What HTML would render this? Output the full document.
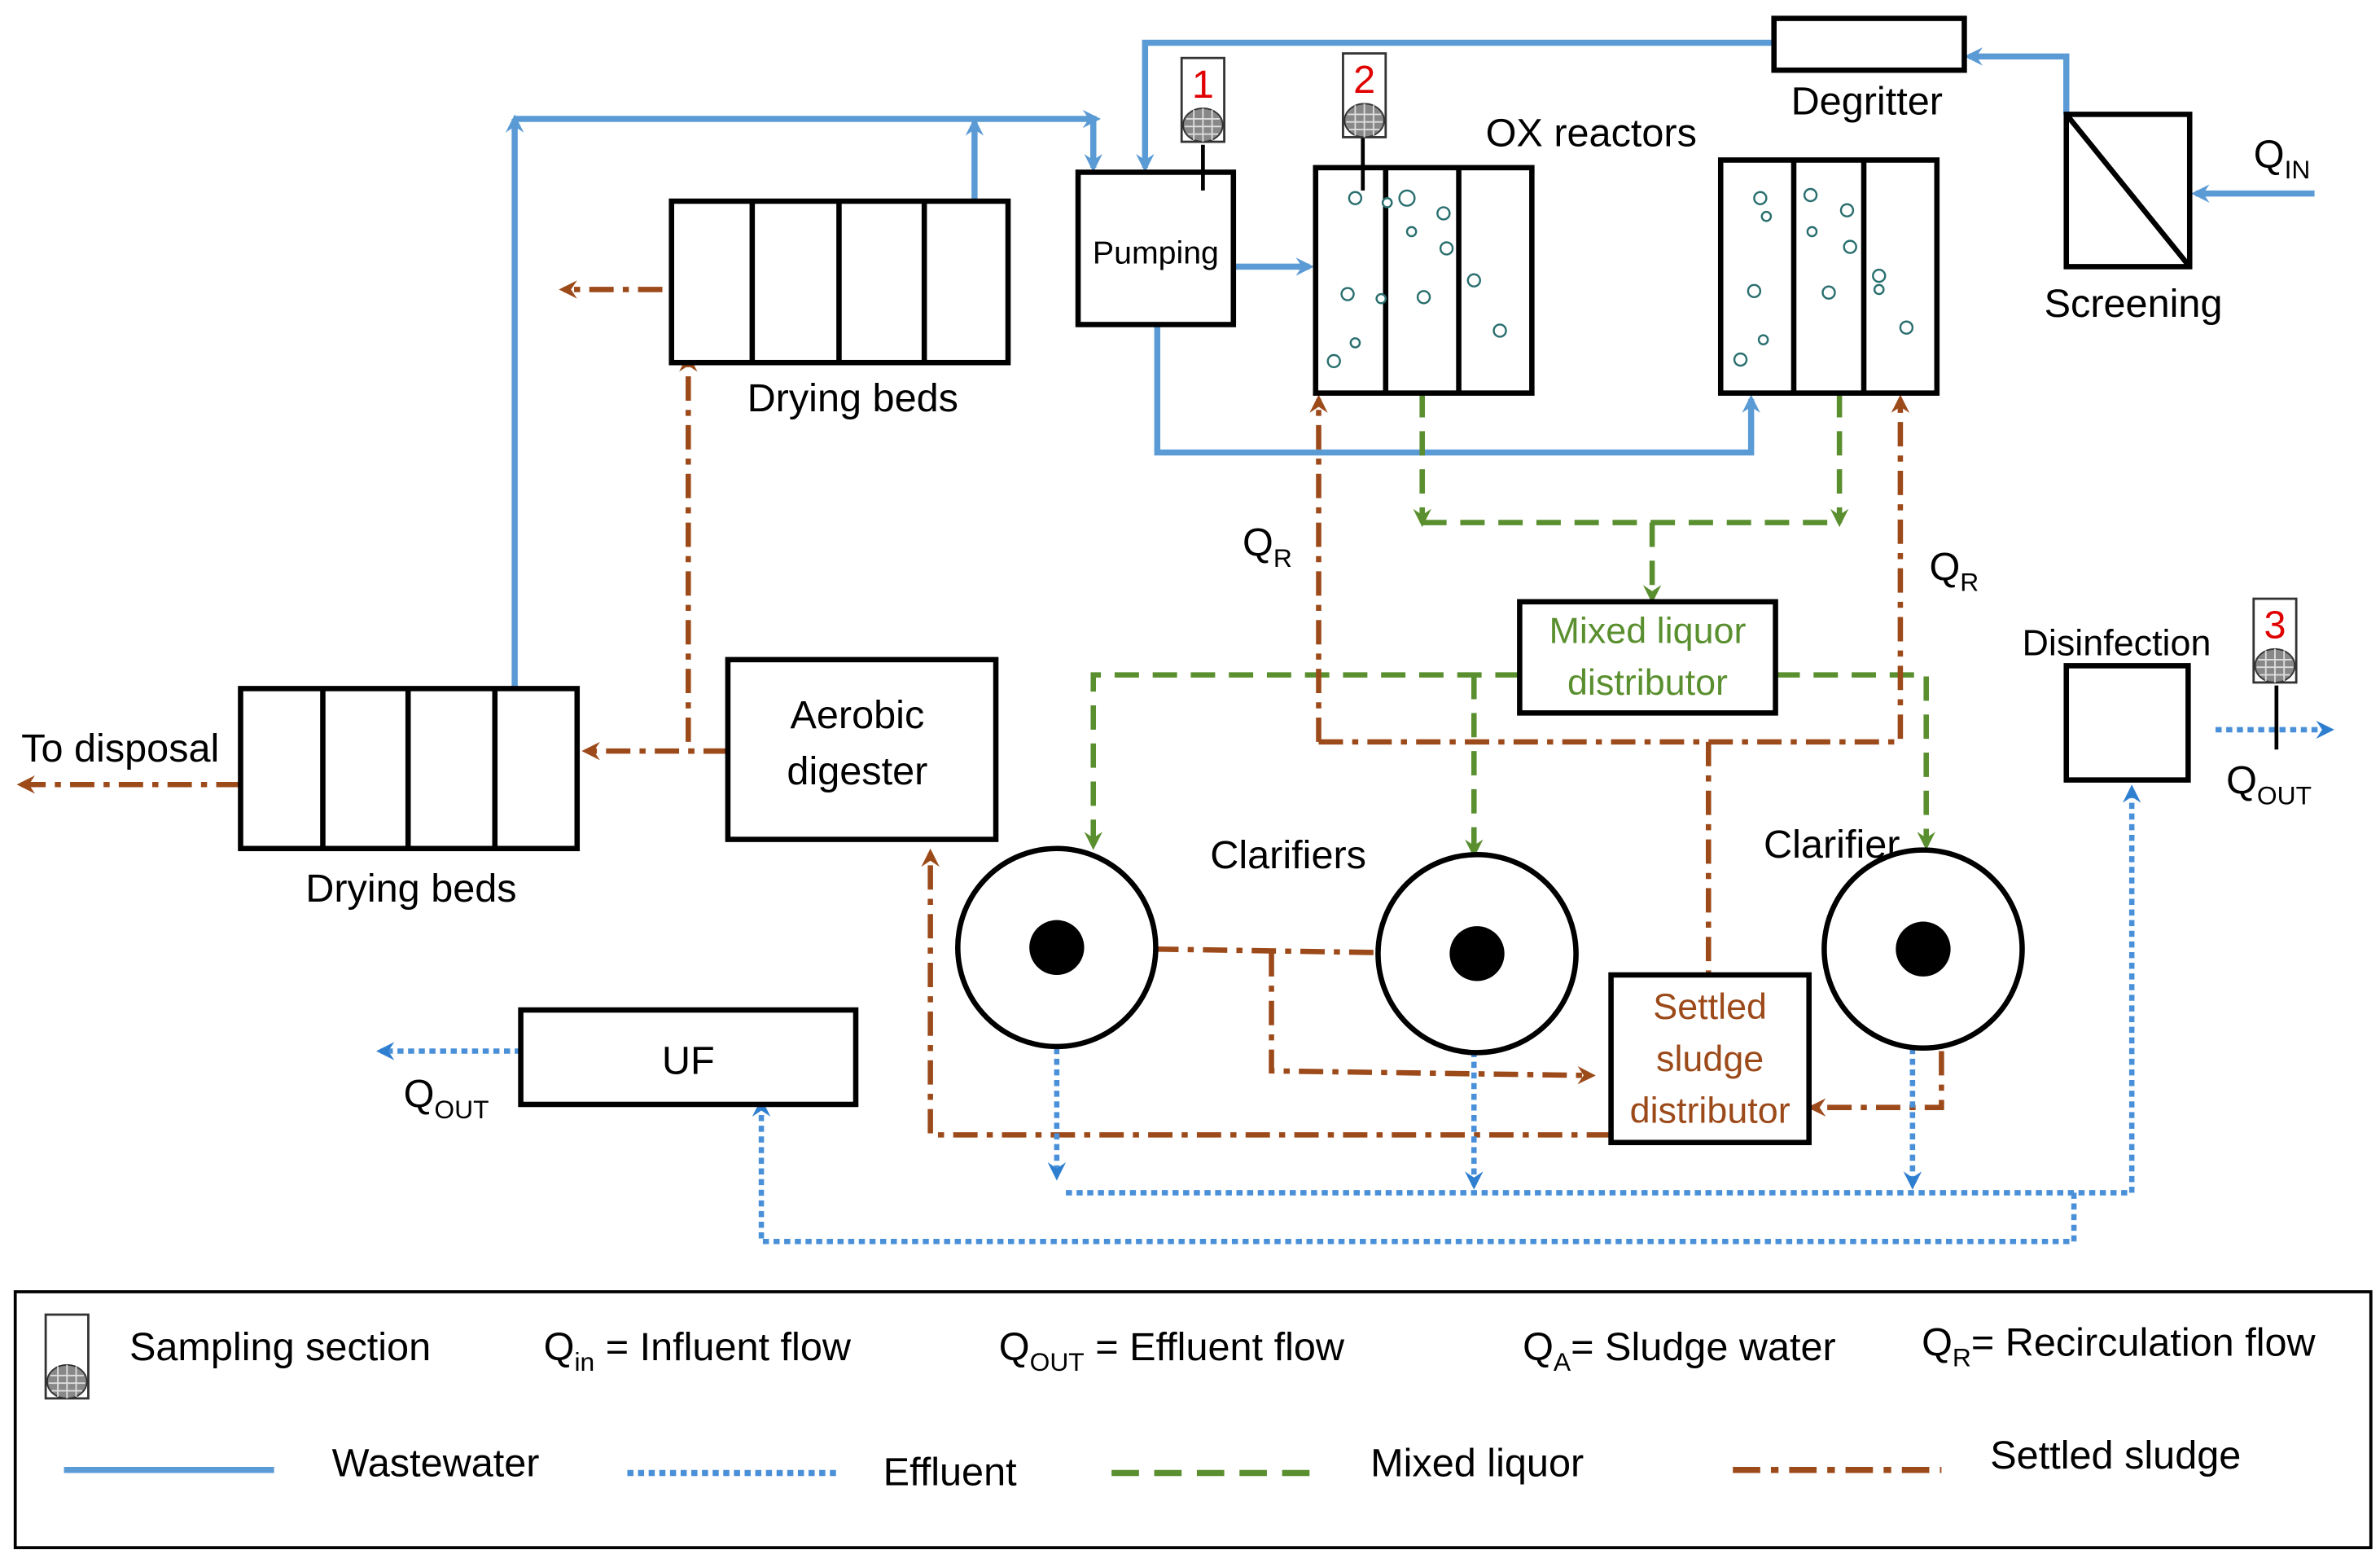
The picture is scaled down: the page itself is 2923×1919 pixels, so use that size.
<!DOCTYPE html>
<html><head><meta charset="utf-8"><style>
html,body{margin:0;padding:0;background:#fff;}
svg{display:block;}
text{font-family:"Liberation Sans",sans-serif;}
</style></head><body>
<svg width="2923" height="1919" viewBox="0 0 1563 1026" xmlns="http://www.w3.org/2000/svg">
<defs>
<marker id="ab" markerWidth="12" markerHeight="12" refX="9" refY="6" orient="auto" markerUnits="userSpaceOnUse"><path d="M0,0 L12,6 L0,12 L4,6z" fill="#5b9bd5"/></marker>
<marker id="ad" markerWidth="12" markerHeight="12" refX="9" refY="6" orient="auto" markerUnits="userSpaceOnUse"><path d="M0,0 L12,6 L0,12 L4,6z" fill="#2f7fd0"/></marker>
<marker id="ag" markerWidth="12" markerHeight="12" refX="9" refY="6" orient="auto" markerUnits="userSpaceOnUse"><path d="M0,0 L12,6 L0,12 L4,6z" fill="#5a8f2f"/></marker>
<marker id="ar" markerWidth="12" markerHeight="12" refX="9" refY="6" orient="auto" markerUnits="userSpaceOnUse"><path d="M0,0 L12,6 L0,12 L4,6z" fill="#9c4a1a"/></marker>
<g id="samp">
<rect x="0" y="0" width="28" height="55" fill="#fff" stroke="#333" stroke-width="1.5"/>
<ellipse cx="14" cy="44" rx="13" ry="11" fill="#888" stroke="#333"/>
<path d="M3,40 L25,40 M2,45 L26,45 M4,50 L24,50 M8,34 L8,54 M14,33 L14,55 M20,34 L20,54" stroke="#ddd" stroke-width="1"/>
</g>
</defs>

<g fill="none" stroke-width="3.5">
<g stroke="#5b9bd5" stroke-width="4">
<path d="M1520,127 L1442,127" marker-end="url(#ab)"/>
<path d="M1357,75 L1357,37 L1293,37" marker-end="url(#ab)"/>
<path d="M1165,28 L752,28 L752,110" marker-end="url(#ab)"/>
<path d="M338,452 L338,78" marker-end="url(#ab)"/>
<path d="M338,78 L720,78" marker-end="url(#ab)"/>
<path d="M718,78 L718,110" marker-end="url(#ab)"/>
<path d="M640,132 L640,80" marker-end="url(#ab)"/>
<path d="M810,175 L860,175" marker-end="url(#ab)"/>
<path d="M760,213 L760,297 L1150,297 L1150,262" marker-end="url(#ab)"/>
</g>
<g stroke="#5a8f2f" stroke-dasharray="16,9">
<path d="M934,258 L934,343" marker-end="url(#ag)"/>
<path d="M934,343 L1208,343"/>
<path d="M1208,258 L1208,343" marker-end="url(#ag)"/>
<path d="M1085,343 L1085,393" marker-end="url(#ag)"/>
<path d="M998,443 L718,443 L718,555" marker-end="url(#ag)"/>
<path d="M968,443 L968,560" marker-end="url(#ag)"/>
<path d="M1166,443 L1265,443 L1265,555" marker-end="url(#ag)"/>
</g>
<g stroke="#9c4a1a" stroke-dasharray="16,6,4,6">
<path d="M435,190 L370,190" marker-end="url(#ar)"/>
<path d="M478,493 L452,493 L452,235" marker-end="url(#ar)"/>
<path d="M478,493 L385,493" marker-end="url(#ar)"/>
<path d="M158,515 L14,515" marker-end="url(#ar)"/>
<path d="M866,487 L866,262" marker-end="url(#ar)"/>
<path d="M866,487 L1248,487 L1248,262" marker-end="url(#ar)"/>
<path d="M1122,487 L1122,640"/>
<path d="M694,622 L950,626"/>
<path d="M835,625 L835,703 L1045,706" marker-end="url(#ar)"/>
<path d="M1275,690 L1275,727 L1190,727" marker-end="url(#ar)"/>
<path d="M1058,745 L611,745 L611,560" marker-end="url(#ar)"/>
</g>
<g stroke="#4a90d9" stroke-dasharray="4,3">
<path d="M694,688 L694,772" marker-end="url(#ad)"/>
<path d="M968,690 L968,778" marker-end="url(#ad)"/>
<path d="M1256,688 L1256,778" marker-end="url(#ad)"/>
<path d="M700,783 L1400,783 L1400,518" marker-end="url(#ad)"/>
<path d="M1362,783 L1362,815 L500,815 L500,724" marker-end="url(#ad)"/>
<path d="M342,690 L250,690" marker-end="url(#ad)"/>
<path d="M1455,479 L1530,479" marker-end="url(#ad)"/>
</g>
</g>

<g fill="#fff" stroke="#000" stroke-width="3.5">
<rect x="1165" y="12" width="125" height="34"/>
<rect x="1357" y="75" width="81" height="100"/>
<rect x="708" y="113" width="102" height="100"/>
<rect x="864" y="110" width="142" height="148"/>
<rect x="1130" y="105" width="142" height="153"/>
<rect x="441" y="132" width="221" height="106"/>
<rect x="478" y="433" width="176" height="118"/>
<rect x="158" y="452" width="221" height="105"/>
<rect x="998" y="395" width="168" height="73"/>
<rect x="1058" y="640" width="130" height="110"/>
<rect x="342" y="663" width="220" height="62"/>
<rect x="1357" y="437" width="80" height="75"/>
<circle cx="694" cy="622" r="65"/>
<circle cx="970" cy="626" r="65"/>
<circle cx="1263" cy="623" r="65"/>
</g>
<g stroke="#000" stroke-width="3.5">
<path d="M1357,75 L1438,175"/>
<path d="M910,110 V258 M958,110 V258 M1178,105 V258 M1224,105 V258"/>
<path d="M494,132 V238 M551,132 V238 M607,132 V238"/>
<path d="M212,452 V557 M268,452 V557 M325,452 V557"/>
</g>
<g fill="#000"><circle cx="694" cy="622" r="18"/><circle cx="970" cy="626" r="18"/><circle cx="1263" cy="623" r="18"/></g>
<g fill="#fff" stroke="#2a6f6f" stroke-width="1.3">
<circle cx="890" cy="130" r="4"/><circle cx="924" cy="130" r="5"/><circle cx="948" cy="140" r="4"/><circle cx="927" cy="152" r="3"/><circle cx="950" cy="163" r="4"/><circle cx="968" cy="184" r="4"/><circle cx="885" cy="193" r="4"/><circle cx="935" cy="195" r="4"/><circle cx="907" cy="196" r="3"/><circle cx="985" cy="217" r="4"/><circle cx="890" cy="225" r="3"/><circle cx="876" cy="237" r="4"/><circle cx="911" cy="133" r="3"/>
<circle cx="1156" cy="130" r="4"/><circle cx="1160" cy="142" r="3"/><circle cx="1189" cy="128" r="4"/><circle cx="1213" cy="138" r="4"/><circle cx="1190" cy="152" r="3"/><circle cx="1215" cy="162" r="4"/><circle cx="1234" cy="181" r="4"/><circle cx="1234" cy="190" r="3"/><circle cx="1152" cy="191" r="4"/><circle cx="1201" cy="192" r="4"/><circle cx="1252" cy="215" r="4"/><circle cx="1158" cy="223" r="3"/><circle cx="1143" cy="236" r="4"/>
</g>
<path d="M790,95 V125 M895,90 V125 M1495,450 V492" stroke="#000" stroke-width="2.5"/>
<use href="#samp" x="776" y="38"/>
<use href="#samp" x="882" y="35"/>
<use href="#samp" x="1480" y="393"/>
<g fill="#e00000" font-size="26" text-anchor="middle">
<text x="790" y="64">1</text><text x="896" y="61">2</text><text x="1494" y="419">3</text>
</g>

<g font-size="26" fill="#000">
<text x="1226" y="75" text-anchor="middle">Degritter</text>
<text x="1401" y="208" text-anchor="middle">Screening</text>
<text x="1480" y="110">Q<tspan font-size="17" dy="7">IN</tspan></text>
<text x="1045" y="96" text-anchor="middle">OX reactors</text>
<text x="759" y="173" text-anchor="middle" font-size="21">Pumping</text>
<text x="560" y="270" text-anchor="middle">Drying beds</text>
<text x="270" y="592" text-anchor="middle">Drying beds</text>
<text x="14" y="500">To disposal</text>
<text x="563" y="478" text-anchor="middle">Aerobic</text>
<text x="563" y="515" text-anchor="middle">digester</text>
<text x="816" y="365">Q<tspan font-size="17" dy="7">R</tspan></text>
<text x="1267" y="381">Q<tspan font-size="17" dy="7">R</tspan></text>
<text x="846" y="570" text-anchor="middle">Clarifiers</text>
<text x="1203" y="563" text-anchor="middle">Clarifier</text>
<text x="1390" y="430" text-anchor="middle" font-size="24">Disinfection</text>
<text x="1462" y="521">Q<tspan font-size="17" dy="7">OUT</tspan></text>
<text x="265" y="727">Q<tspan font-size="17" dy="7">OUT</tspan></text>
<text x="452" y="705" text-anchor="middle">UF</text>
</g>
<g font-size="24" fill="#5a8f2f" text-anchor="middle">
<text x="1082" y="422">Mixed liquor</text><text x="1082" y="456">distributor</text>
</g>
<g font-size="24" fill="#9c4a1a" text-anchor="middle">
<text x="1123" y="669">Settled</text><text x="1123" y="703">sludge</text><text x="1123" y="737">distributor</text>
</g>

<rect x="10" y="848" width="1547" height="168" fill="none" stroke="#000" stroke-width="2"/>
<use href="#samp" x="30" y="863"/>
<g font-size="26" fill="#000">
<text x="85" y="893">Sampling section</text>
<text x="357" y="893">Q<tspan font-size="17" dy="7">in</tspan><tspan dy="-7"> = Influent flow</tspan></text>
<text x="656" y="893">Q<tspan font-size="17" dy="7">OUT</tspan><tspan dy="-7"> = Effluent flow</tspan></text>
<text x="1000" y="893">Q<tspan font-size="17" dy="7">A</tspan><tspan dy="-7">= Sludge water</tspan></text>
<text x="1262" y="890">Q<tspan font-size="17" dy="7">R</tspan><tspan dy="-7">= Recirculation flow</tspan></text>
<text x="218" y="969">Wastewater</text>
<text x="580" y="975">Effluent</text>
<text x="900" y="969">Mixed liquor</text>
<text x="1307" y="964">Settled sludge</text>
</g>
<g stroke-width="4" fill="none">
<path d="M42,965 H180" stroke="#5b9bd5"/>
<path d="M412,967 H550" stroke="#4a90d9" stroke-dasharray="4,3"/>
<path d="M730,967 H868" stroke="#5a8f2f" stroke-dasharray="18,10"/>
<path d="M1138,965 H1275" stroke="#9c4a1a" stroke-dasharray="18,7,5,7"/>
</g>
</svg>
</body></html>
